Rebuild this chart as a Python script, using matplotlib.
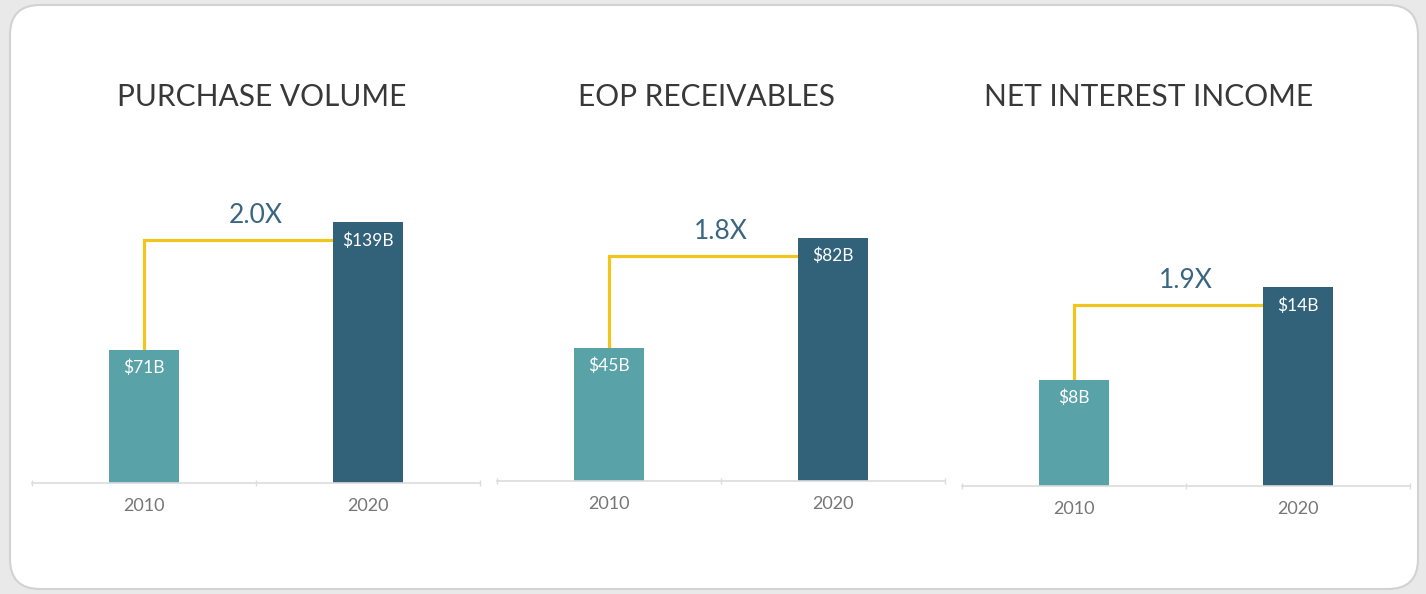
import matplotlib
matplotlib.use("Agg")
import matplotlib.pyplot as plt
from matplotlib.patches import FancyBboxPatch

plt.rcParams['font.family'] = ['Lato', 'DejaVu Sans']

# data
titles = ["PURCHASE VOLUME", "EOP RECEIVABLES", "NET INTEREST INCOME"]
years = ["2010", "2020"]
purchase_volume = [71, 139]
eop_receivables = [45, 82]
net_interest_income = [7.5, 14.0]
bar_labels = [["$71B", "$139B"], ["$45B", "$82B"], ["$8B", "$14B"]]
multipliers = ["2.0X", "1.8X", "1.9X"]

series = [purchase_volume, eop_receivables, net_interest_income]

# styling
c_2010 = "#58a2a8"
c_2020 = "#31627a"
c_line = "#f1c61c"
c_mult = "#3b6680"
c_title = "#383838"
c_year = "#767676"

W, H = 1426, 594
fig = plt.figure(figsize=(W / 100, H / 100), dpi=100)
fig.patch.set_facecolor("#e9e9e9")

card = FancyBboxPatch((0.10, 0.05), 14.08, 5.84,
                      boxstyle="round,pad=0,rounding_size=0.3",
                      transform=fig.dpi_scale_trans,
                      facecolor="white", edgecolor="#d2d2d2", lw=1.5, zorder=-10)
fig.patches.append(card)

# layout in pixels: (left, axis-line y), ylim top, title center x
panel_left = [32, 497, 962]
panel_base = [483, 481, 486]
ylims = [183, 115, 24.4]
title_x = [262, 707, 1149]
panel_w = 448
top_px = 140

for i in range(3):
    left = panel_left[i] / W
    bottom = 1 - panel_base[i] / H
    height = (panel_base[i] - top_px) / H
    ax = fig.add_axes([left, bottom, panel_w / W, height])
    ax.set_facecolor("none")
    vals = series[i]
    x = [0, 1]
    bw = 0.31
    ax.bar(x, vals, width=bw, color=[c_2010, c_2020], zorder=2)
    ax.set_xlim(-0.5, 1.5)
    ax.set_ylim(0, ylims[i])

    for s in ["top", "left", "right"]:
        ax.spines[s].set_visible(False)
    ax.spines["bottom"].set_color("#dcdcdc")
    ax.spines["bottom"].set_linewidth(1.2)
    ax.set_yticks([])
    ax.set_xticks(x)
    ax.set_xticklabels(years, fontsize=13, color=c_year)
    ax.tick_params(axis="x", length=0, pad=11)
    ax.set_xticks([-0.5, 0.5, 1.5], minor=True)
    ax.tick_params(axis="x", which="minor", length=5, direction="inout",
                   color="#dcdcdc", width=1)

    # helpers to convert pixel offsets to data
    def shift(y, dpx):
        py = ax.transData.transform((0, y))[1] + dpx
        return ax.transData.inverted().transform((0, py))[1]

    # connector line
    yh = shift(vals[1], -18)
    ax.plot([0, 0, 1 - bw / 2], [vals[0], yh, yh], color=c_line, lw=2.3,
            solid_joinstyle="miter", zorder=1)
    ax.text(0.5, shift(yh, 12), multipliers[i], ha="center", va="bottom",
            fontsize=19, color=c_mult)

    # bar value labels
    for xi, v, lab in zip(x, vals, bar_labels[i]):
        ax.text(xi, shift(v, -18), lab, ha="center", va="center",
                fontsize=12.5, color="white", zorder=3)

    fig.text(title_x[i] / W, 1 - 97 / H, titles[i], ha="center", va="center",
             fontsize=21.5, color=c_title)

fig.savefig("out.png", dpi=100, facecolor=fig.get_facecolor())
